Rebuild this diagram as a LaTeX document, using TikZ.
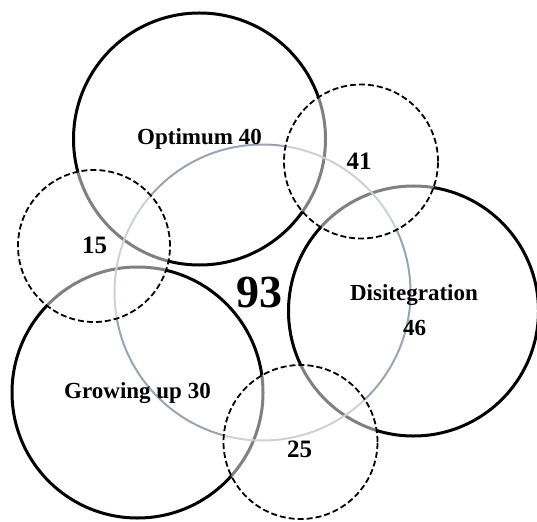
\documentclass[tikz,border=0pt]{standalone}
\usepackage{fontspec}
\setmainfont{Liberation Serif}
\begin{document}
\begin{tikzpicture}[x=1pt,y=-1pt,
  bigring/.style={circle,draw=black,line width=3pt,inner sep=0pt,minimum size=#1},
  corering/.style={circle,draw={rgb,255:red,154;green,163;blue,179},line width=2pt,inner sep=0pt,minimum size=#1},
  dashring/.style={circle,draw=black,line width=1.8pt,dash pattern=on 6pt off 3pt,fill=white,fill opacity=0.5,draw opacity=1,inner sep=0pt,minimum size=#1},
  lbl/.style={font=\bfseries\fontsize{23}{26}\selectfont,anchor=base,inner sep=0pt},
  numlbl/.style={font=\bfseries\fontsize{25}{28}\selectfont,anchor=base,inner sep=0pt}]
\useasboundingbox (0,0) rectangle (537,521);
% solid circles
\node[bigring=252pt] (opt) at (199.5,139) {};
\node[bigring=250pt] (dis) at (413.5,311) {};
\node[bigring=251pt] (grow) at (137.5,392.5) {};
\node[corering=296pt] (core) at (262.5,292.5) {};
% dashed circles
\node[dashring=152pt] (d15) at (94,246) {};
\node[dashring=154pt] (d41) at (361,161.5) {};
\node[dashring=154pt] (d25) at (300.5,442) {};
% labels
\node[lbl] (topt) at (199.5,145) {Optimum 40};
\node[lbl] (tdis) at (414,300) {Disitegration};
\node[lbl] (tdis2) at (414.5,335) {46};
\node[lbl] (tgrow) at (137.5,398) {Growing up 30};
\node[numlbl] (t41) at (359,170) {41};
\node[numlbl] (t15) at (94.5,253) {15};
\node[numlbl] (t25) at (299.5,457) {25};
\node[font=\bfseries\fontsize{46}{50}\selectfont,anchor=base,inner sep=0pt] (t93) at (259,307) {93};
\end{tikzpicture}
\end{document}
